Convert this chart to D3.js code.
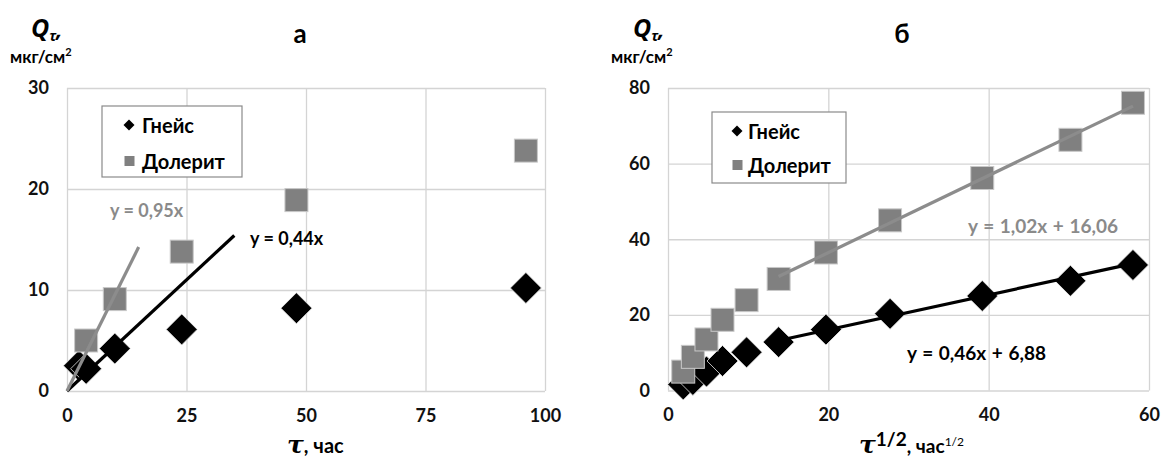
<!DOCTYPE html>
<html><head><meta charset="utf-8">
<script src="https://cdn.jsdelivr.net/npm/d3@7"></script>
<style>
html,body{margin:0;padding:0;background:#fff;}
svg{display:block;font-family:Lato,"Open Sans",sans-serif;font-weight:bold;}
</style></head>
<body>
<svg id="c" width="1164" height="459"></svg>
<script>
// ---- Panel а: Q vs tau (hours)
const seriesNames = ["Гнейс", "Долерит"];
const aGneissTau = [2.5, 4, 10, 24, 48, 96];
const aGneissQ   = [2.5, 2.2, 4.2, 6.1, 8.2, 10.2];
const aDolTau    = [4, 10, 24, 48, 96];
const aDolQ      = [5.0, 9.1, 13.8, 18.9, 23.8];
const aXTicks = [0, 25, 50, 75, 100];
const aYTicks = [0, 10, 20, 30];
const aTrendGneiss = {slope: 0.44, from: 0, to: 35, label: "y = 0,44x"};
const aTrendDol    = {slope: 0.95, from: 0, to: 15, label: "y = 0,95x"};

// ---- Panel б: Q vs tau^1/2
const bX       = [1.9, 3.1, 4.8, 6.8, 9.8, 13.8, 19.7, 27.7, 39.2, 50.2, 58.0];
const bGneissQ = [1.6, 2.8, 5.0, 7.8, 10.1, 12.8, 16.1, 20.3, 25.0, 29.0, 33.2];
const bDolQ    = [5.0, 8.9, 13.5, 18.7, 23.9, 29.5, 36.5, 45.0, 56.2, 66.3, 76.1];
const bXTicks = [0, 20, 40, 60];
const bYTicks = [0, 20, 40, 60, 80];
const bTrendGneiss = {slope: 0.46, icpt: 6.88, from: 13.8, to: 58.0, label: "y = 0,46x + 6,88"};
const bTrendDol    = {slope: 1.02, icpt: 16.06, from: 13.8, to: 58.0, label: "y = 1,02x + 16,06"};

const GRAY = "#808080", LGRAY = "#8c8c8c", GRID = "#d4d4d4";
const ITAL = "'Open Sans','Liberation Sans',sans-serif";
const svg = d3.select("#c");
const defs = svg.append("defs");

function panel(cfg){
  const clipId = "clip" + cfg.id;
  defs.append("clipPath").attr("id", clipId).append("rect")
    .attr("x", cfg.clip[0]).attr("y", 0).attr("width", cfg.clip[1]-cfg.clip[0]).attr("height", 459);
  const g = svg.append("g").attr("clip-path", `url(#${clipId})`);
  const x = d3.scaleLinear().domain(cfg.xDom).range(cfg.xRange);
  const y = d3.scaleLinear().domain(cfg.yDom).range(cfg.yRange);

  // grid
  g.append("g").attr("transform", `translate(${cfg.xRange[0]},0)`)
    .call(d3.axisLeft(y).tickValues(cfg.yTicks).tickSize(-(cfg.xRange[1]-cfg.xRange[0])).tickFormat(""))
    .call(a => { a.select(".domain").remove(); a.selectAll("line").attr("stroke", GRID).attr("stroke-width", 1.3); });
  g.append("g").attr("transform", `translate(0,${cfg.yRange[0]})`)
    .call(d3.axisBottom(x).tickValues(cfg.xTicks).tickSize(-(cfg.yRange[0]-cfg.yRange[1])).tickFormat(""))
    .call(a => { a.select(".domain").remove(); a.selectAll("line").attr("stroke", GRID).attr("stroke-width", 1.3); });

  // tick labels
  const yl = g.append("g").attr("transform", `translate(${cfg.xRange[0]-18},0)`)
    .call(d3.axisLeft(y).tickValues(cfg.yTicks).tickSize(0).tickPadding(0));
  yl.select(".domain").remove();
  yl.selectAll("text").attr("font-size", 18).attr("font-family", "Lato").attr("font-weight", "bold").attr("fill", "#111");
  const xl = g.append("g").attr("transform", `translate(0,${cfg.yRange[0]+18})`)
    .call(d3.axisBottom(x).tickValues(cfg.xTicks).tickSize(0).tickPadding(0));
  xl.select(".domain").remove();
  xl.selectAll("text").attr("font-size", 18).attr("font-family", "Lato").attr("font-weight", "bold").attr("fill", "#111");

  // markers: diamonds first, then squares
  const h = 15.5;
  g.append("g").selectAll("path").data(cfg.gneiss).join("path")
    .attr("d", d => `M${x(d[0])},${y(d[1])-h}L${x(d[0])+h},${y(d[1])}L${x(d[0])},${y(d[1])+h}L${x(d[0])-h},${y(d[1])}Z`)
    .attr("fill", "#000").attr("stroke", "#e6e6e6").attr("stroke-width", 0.8);
  g.append("g").selectAll("rect").data(cfg.dol).join("rect")
    .attr("x", d => x(d[0]) - 11.5).attr("y", d => y(d[1]) - 11.5)
    .attr("width", 23).attr("height", 23)
    .attr("fill", GRAY).attr("stroke", "#c8c8c8").attr("stroke-width", 1);

  // trend lines
  const line = d3.line().x(d => x(d[0])).y(d => y(d[1]));
  const tg = cfg.trendG, td = cfg.trendD;
  const f = t => v => t.slope * v + (t.icpt || 0);
  g.append("path").attr("d", line([[tg.from, f(tg)(tg.from)], [tg.to, f(tg)(tg.to)]]))
    .attr("stroke", "#000").attr("stroke-width", 3.2).attr("fill", "none");
  g.append("path").attr("d", line([[td.from, f(td)(td.from)], [td.to, f(td)(td.to)]]))
    .attr("stroke", LGRAY).attr("stroke-width", 3.2).attr("fill", "none");

  // trend labels
  g.append("text").attr("x", cfg.lblG[0]).attr("y", cfg.lblG[1]).attr("dominant-baseline", "central")
    .attr("font-size", cfg.lblSize).attr("fill", "#000").attr("word-spacing", cfg.wsp).text(tg.label);
  g.append("text").attr("x", cfg.lblD[0]).attr("y", cfg.lblD[1]).attr("dominant-baseline", "central")
    .attr("font-size", cfg.lblSize).attr("fill", "#8a8a8a").attr("word-spacing", cfg.wsp).text(td.label);

  // legend
  const L = cfg.legend;
  g.append("rect").attr("x", L.x).attr("y", L.y).attr("width", L.w).attr("height", L.h)
    .attr("fill", "#fff").attr("stroke", "#8a8a8a").attr("stroke-width", 1.2);
  g.append("path").attr("d", `M${L.mx},${L.r1-5.5}L${L.mx+5.5},${L.r1}L${L.mx},${L.r1+5.5}L${L.mx-5.5},${L.r1}Z`).attr("fill", "#000");
  g.append("rect").attr("x", L.mx-4.5).attr("y", L.r2-5).attr("width", 10).attr("height", 10).attr("fill", GRAY);
  g.append("text").attr("x", L.tx).attr("y", L.r1).attr("dominant-baseline", "central").attr("font-size", 20).text(seriesNames[0]);
  g.append("text").attr("x", L.tx).attr("y", L.r2).attr("dominant-baseline", "central").attr("font-size", 20).text(seriesNames[1]);

  // title
  g.append("text").attr("x", cfg.title[0]).attr("y", cfg.title[1]).attr("text-anchor", "middle")
    .attr("dominant-baseline", "central").attr("font-size", 26).text(cfg.title[2]);

  // y axis label
  const q = g.append("text").attr("x", cfg.yLab[0]).attr("y", cfg.yLab[1]).attr("font-family", ITAL);
  q.append("tspan").attr("font-size", 25).attr("font-style", "italic").text("Q");
  q.append("tspan").attr("font-size", 14).attr("font-style", "italic").attr("dy", 4).text("τ");
  q.append("tspan").attr("font-size", 22).attr("font-style", "italic").attr("dy", -4).text(",");
  const u = g.append("text").attr("x", cfg.yLab[2]).attr("y", cfg.yLab[3]).attr("font-size", 17);
  u.append("tspan").text("мкг/см");
  u.append("tspan").attr("font-size", 11).attr("dy", -7).text("2");

  // x axis label
  const xt = g.append("text").attr("x", cfg.xLab[0]).attr("y", cfg.xLab[1]);
  xt.append("tspan").attr("font-size", 25).attr("font-style", "italic").attr("font-family", "'DejaVu Serif',serif").text("τ");
  if (cfg.sqrt) {
    xt.append("tspan").attr("font-size", 19).attr("dy", -7).text("1/2");
    xt.append("tspan").attr("font-size", 19).attr("dy", 7).text(", час");
    xt.append("tspan").attr("font-size", 12).attr("dy", -7).attr("font-weight", "normal").text("1/2");
  } else {
    xt.append("tspan").attr("font-size", 20).text(", час");
  }
}

panel({
  id: "a", clip: [0, 562], xDom: [0, 100], xRange: [67, 545], yDom: [0, 30], yRange: [391, 88],
  xTicks: aXTicks, yTicks: aYTicks,
  gneiss: aGneissTau.map((t, i) => [t, aGneissQ[i]]),
  dol: aDolTau.map((t, i) => [t, aDolQ[i]]),
  trendG: aTrendGneiss, trendD: aTrendDol,
  lblG: [250, 238], lblD: [110, 210], lblSize: 18, wsp: 0,
  legend: {x: 102, y: 106, w: 140, h: 71, mx: 129, tx: 142, r1: 125, r2: 161},
  title: [300, 33, "а"], yLab: [31, 37, 10, 63], xLab: [287, 453], sqrt: false
});
panel({
  id: "b", clip: [562, 1161], xDom: [0, 60], xRange: [668, 1149], yDom: [0, 80], yRange: [390.5, 88],
  xTicks: bXTicks, yTicks: bYTicks,
  gneiss: bX.map((t, i) => [t, bGneissQ[i]]),
  dol: bX.map((t, i) => [t, bDolQ[i]]),
  trendG: bTrendGneiss, trendD: bTrendDol,
  lblG: [907, 352], lblD: [968, 225], lblSize: 19, wsp: 1,
  legend: {x: 712, y: 112, w: 134, h: 71, mx: 737, tx: 748, r1: 131, r2: 165},
  title: [902, 33, "б"], yLab: [633, 37, 611, 63], xLab: [859, 453], sqrt: true
});
</script>
</body></html>
